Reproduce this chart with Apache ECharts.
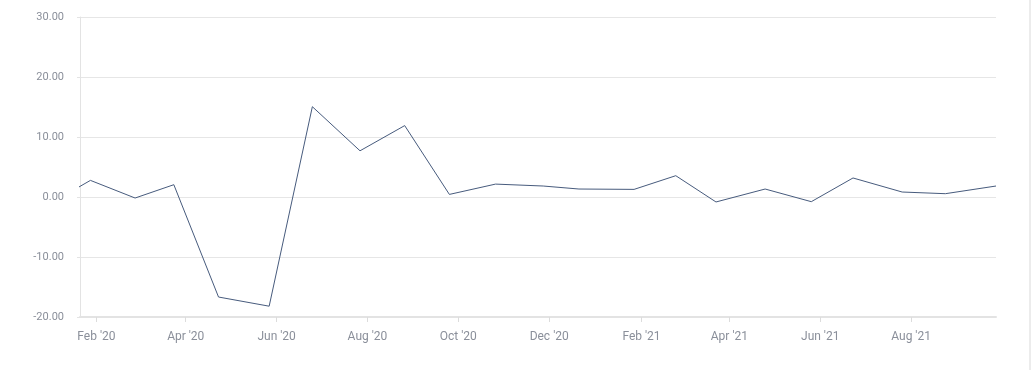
<!DOCTYPE html>
<html>
<head>
<meta charset="utf-8">
<script src="https://cdn.jsdelivr.net/npm/echarts@6/dist/echarts.min.js"></script>
<style>
html,body{margin:0;padding:0;background:#fff;}
#chart{width:1031px;height:370px;}
</style>
</head>
<body>
<div id="chart"></div>
<script>
// Data (dates as [year, month(1-12), day])
const pointDates = [
  [2020,1,17],[2020,1,28],[2020,2,27],[2020,3,24],[2020,4,23],[2020,5,27],
  [2020,6,25],[2020,7,27],[2020,8,26],[2020,9,25],[2020,10,26],[2020,11,27],
  [2020,12,21],[2021,1,27],[2021,2,24],[2021,3,23],[2021,4,25],[2021,5,26],
  [2021,6,23],[2021,7,26],[2021,8,24],[2021,9,27]
];
const values = [
  1.2, 2.77, -0.17, 2.05, -16.67, -18.2,
  15.05, 7.7, 11.9, 0.43, 2.15, 1.83,
  1.33, 1.27, 3.55, -0.83, 1.33, -0.78,
  3.17, 0.83, 0.55, 1.83
];
const tickDates = [
  [2020,2,1],[2020,4,1],[2020,6,1],[2020,8,1],[2020,10,1],[2020,12,1],
  [2021,2,1],[2021,4,1],[2021,6,1],[2021,8,1]
];
const tickLabels = ["Feb '20","Apr '20","Jun '20","Aug '20","Oct '20","Dec '20","Feb '21","Apr '21","Jun '21","Aug '21"];
const axisStart = [2020,1,21];
const axisEnd = [2021,9,27];
const yTicks = { min: -20, max: 30, interval: 10 };

const ts = d => Date.UTC(d[0], d[1]-1, d[2]);
const seriesData = pointDates.map((d,i) => [ts(d), values[i]]);
const tickTs = tickDates.map(ts);
const labelMap = {};
tickTs.forEach((t,i) => { labelMap[t] = tickLabels[i]; });

const chart = echarts.init(document.getElementById('chart'), null, {renderer:'canvas'});
const textColor = '#8a8f9a';
chart.setOption({
  animation: false,
  backgroundColor: '#ffffff',
  textStyle: { fontFamily: 'Roboto' },
  grid: { left: 80, right: 35, top: 17, bottom: 53, containLabel: false },
  xAxis: {
    type: 'value',
    min: ts(axisStart),
    max: ts(axisEnd),
    axisLine: { show: true, onZero: false, lineStyle: { color: '#e3e3e3', width: 2 } },
    axisTick: { show: true, length: 5, lineStyle: { color: '#dcdcdc', width: 1 }, customValues: tickTs },
    axisLabel: {
      customValues: tickTs,
      color: textColor, fontSize: 12, fontFamily: 'Roboto', margin: 14,
      formatter: v => labelMap[v] !== undefined ? labelMap[v] : ''
    },
    splitLine: { show: false }
  },
  yAxis: {
    type: 'value',
    min: yTicks.min, max: yTicks.max, interval: yTicks.interval,
    axisLine: { show: true, lineStyle: { color: '#e3e3e3', width: 1 } },
    axisTick: { show: true, length: 3, lineStyle: { color: '#e3e3e3' } },
    axisLabel: { color: textColor, fontSize: 11, fontFamily: 'Roboto', margin: 16,
      formatter: v => v.toFixed(2) },
    splitLine: { show: true, lineStyle: { color: '#e6e6e6', width: 1 } }
  },
  series: [{
    type: 'line',
    data: seriesData,
    showSymbol: false,
    symbol: 'none',
    clip: false,
    lineStyle: { color: '#475b7d', width: 1 },
    itemStyle: { color: '#475b7d' }
  }],
  graphic: [{
    type: 'rect',
    shape: { x: 1029, y: 0, width: 2, height: 370 },
    style: { fill: '#ececec' },
    silent: true
  }]
});
</script>
</body>
</html>
